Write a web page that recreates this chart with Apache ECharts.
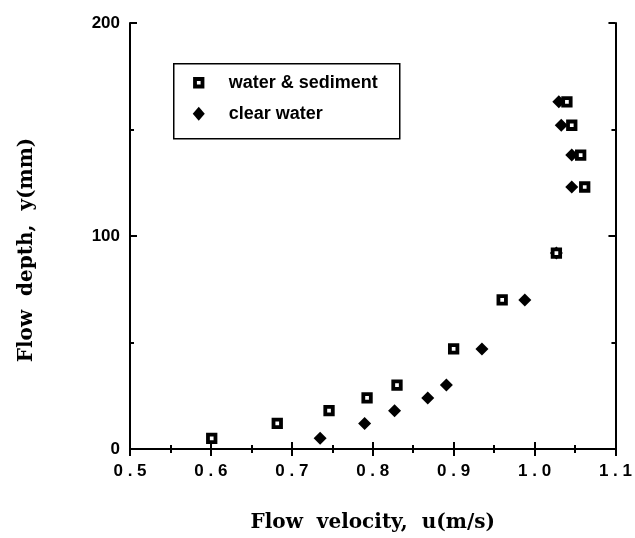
<!DOCTYPE html>
<html>
<head>
<meta charset="utf-8">
<script src="https://cdn.jsdelivr.net/npm/echarts@6/dist/echarts.min.js"></script>
<style>html,body{margin:0;padding:0;background:#fff}#c{width:635px;height:538px}</style>
</head>
<body>
<div id="c"></div>
<script>
// Data
var sedimentU = [0.601, 0.682, 0.746, 0.793, 0.830, 0.900, 0.960, 1.027, 1.062, 1.057, 1.046, 1.040];
var sedimentY = [5, 12, 18, 24, 30, 47, 70, 92, 123, 138, 152, 163];
var clearU = [0.735, 0.790, 0.827, 0.868, 0.891, 0.935, 0.988, 1.027, 1.046, 1.046, 1.033, 1.030];
var clearY = [5, 12, 18, 24, 30, 47, 70, 92, 123, 138, 152, 163];
var seriesNames = ['water & sediment', 'clear water'];
var xTitle = 'Flow  velocity,  u(m/s)';
var yTitle = 'Flow  depth,  y(mm)';

function pairs(xs, ys) { return xs.map(function (x, i) { return [x, ys[i]]; }); }

var chart = echarts.init(document.getElementById('c'), null, { renderer: 'canvas' });
var lineStyle = { color: '#000', width: 2 };
var tickFont = { color: '#000', fontFamily: 'Liberation Sans, Arial, sans-serif', fontWeight: 'bold', fontSize: 17 };
var titleFont = { color: '#000', fontFamily: 'DejaVu Serif, serif', fontWeight: 'bold', fontSize: 20 };
var tick = { inside: true, length: 7, lineStyle: { color: '#000', width: 2 } };
var minor = { show: true, splitNumber: 2, length: 4, lineStyle: { color: '#000', width: 2 } };

chart.setOption({
  animation: false,
  backgroundColor: '#fff',
  grid: { left: 130, right: 17, top: 23, bottom: 87 },
  xAxis: [{
    type: 'value', position: 'bottom', min: 0.5, max: 1.1, interval: 0.1,
    axisLine: { lineStyle: lineStyle }, axisTick: tick, minorTick: minor,
    splitLine: { show: false },
    axisLabel: Object.assign({ margin: 14, formatter: function (v) { return v.toFixed(1).split('').join(' '); } }, tickFont),
    name: xTitle, nameLocation: 'middle', nameGap: 64, nameTextStyle: titleFont
  }, {
    type: 'value', position: 'top', min: 0.5, max: 1.1, interval: 0.1,
    axisLine: { lineStyle: lineStyle }, axisTick: tick, minorTick: minor,
    splitLine: { show: false }, axisLabel: { show: false }
  }],
  yAxis: [{
    type: 'value', position: 'left', min: 0, max: 200, interval: 100,
    axisLine: { lineStyle: lineStyle }, axisTick: tick, minorTick: minor,
    splitLine: { show: false },
    axisLabel: Object.assign({ margin: 10 }, tickFont),
    name: yTitle, nameLocation: 'middle', nameGap: 93,
    nameTextStyle: Object.assign({ padding: [0, 28, 0, 0] }, titleFont)
  }, {
    type: 'value', position: 'right', min: 0, max: 200, interval: 100,
    axisLine: { lineStyle: lineStyle }, axisTick: tick, minorTick: minor,
    splitLine: { show: false }, axisLabel: { show: false }
  }],
  series: [{
    name: seriesNames[1], type: 'scatter', xAxisIndex: 0, yAxisIndex: 0,
    symbol: 'diamond', symbolSize: 13,
    itemStyle: { color: '#000', opacity: 1 },
    data: pairs(clearU, clearY)
  }, {
    name: seriesNames[0], type: 'scatter', xAxisIndex: 0, yAxisIndex: 0,
    symbol: 'rect', symbolSize: 7.5,
    itemStyle: { color: '#fff', borderColor: '#000', borderWidth: 3.8, opacity: 1 },
    data: pairs(sedimentU, sedimentY)
  }],
  graphic: [{
    type: 'group', left: 173, top: 63,
    children: [
      { type: 'rect', shape: { x: 0, y: 0, width: 226, height: 75 }, style: { fill: '#fff', stroke: '#000', lineWidth: 1.5 } },
      { type: 'rect', shape: { x: 21.25, y: 15.25, width: 7.5, height: 7.5 }, style: { fill: '#fff', stroke: '#000', lineWidth: 3.8 } },
      { type: 'polygon', shape: { points: [[25, 43], [31, 50], [25, 57], [19, 50]] }, style: { fill: '#000' } },
      { type: 'text', x: 55, y: 19, style: { text: seriesNames[0], fill: '#000', font: 'bold 18px "Liberation Sans", Arial, sans-serif', verticalAlign: 'middle' } },
      { type: 'text', x: 55, y: 50, style: { text: seriesNames[1], fill: '#000', font: 'bold 18px "Liberation Sans", Arial, sans-serif', verticalAlign: 'middle' } }
    ]
  }]
});
</script>
</body>
</html>
